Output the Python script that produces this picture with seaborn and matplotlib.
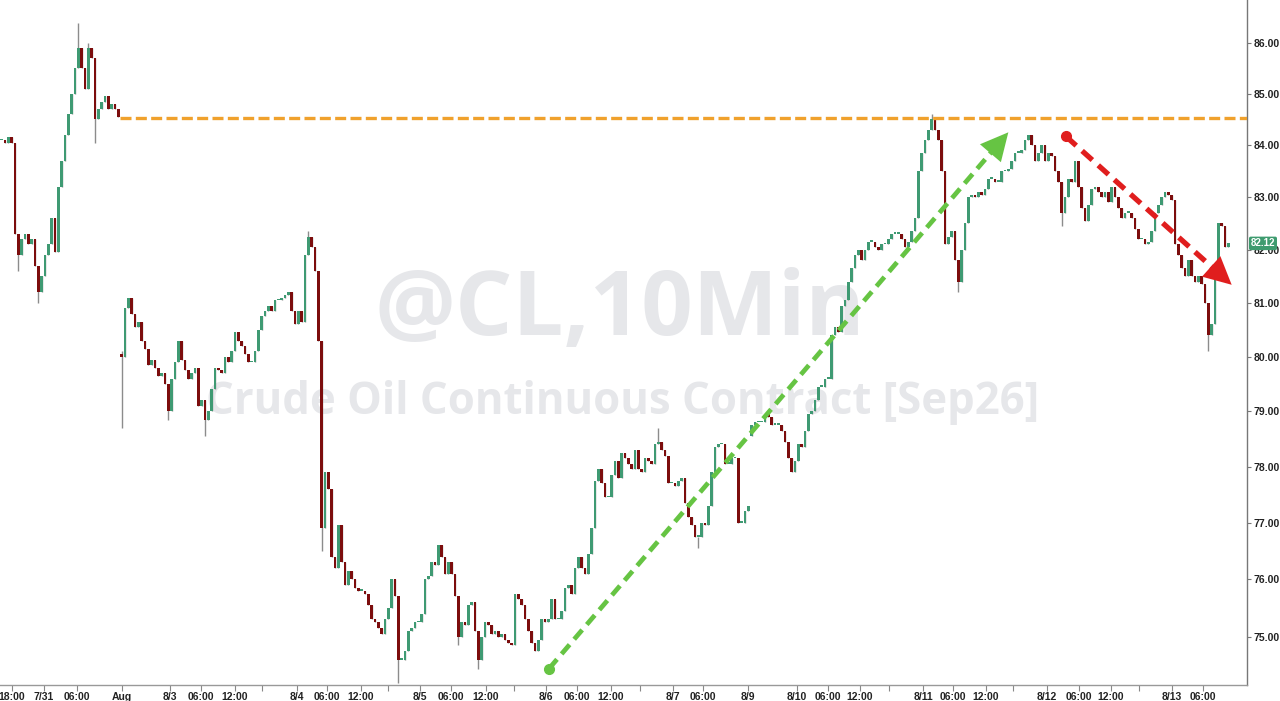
import numpy as np
import pandas as pd
import matplotlib
matplotlib.use("Agg")
import matplotlib.pyplot as plt
import matplotlib.ticker as mticker
from matplotlib.transforms import blended_transform_factory
import seaborn as sns

# ---------------- data ----------------
# closing prices per slot on a gap-free session time axis
close_jul31 = [
    84.1, 84.05, 84.15, 84.05, 82.3, 81.9, 82.2, 82.3, 82.1, 82.2, 81.7, 81.2,
    81.5, 81.9, 82.1, 82.6, 81.95, 83.2, 83.7, 84.2, 84.6, 85.0, 85.5, 85.9,
    85.5, 85.1, 85.9, 85.7, 84.5, 84.7, 84.85, 84.95, 84.7, 84.8, 84.7, 84.55,
]
close_aug3_4 = [
    80.0, 80.9, 81.1, 80.8, 80.55, 80.65, 80.3, 80.15, 79.85, 79.95, 79.8, 79.65,
    79.7, 79.5, 79.0, 79.6, 79.9, 80.3, 79.95, 79.75, 79.6, 79.7, 79.8, 79.1,
    79.2, 78.85, 79.0, 79.4, 79.8, 79.75, 79.7, 80.0, 79.9, 80.1, 80.45, 80.3,
    80.2, 80.05, 79.9, 79.9, 80.1, 80.5, 80.75, 80.85, 80.95, 80.85, 81.05, 81.05,
    81.1, 81.15, 81.2, 80.85, 80.6, 80.85, 80.65, 81.9, 82.25, 82.05, 81.6, 80.3,
]
close_aug5_7 = [
    76.9, 77.9, 77.6, 76.4, 76.2, 76.95, 76.3, 75.9, 76.15, 76.0, 75.85, 75.8,
    75.8, 75.75, 75.55, 75.3, 75.25, 75.15, 75.05, 75.3, 75.5, 76.0, 75.7, 74.6,
    74.6, 74.75, 75.1, 75.15, 75.25, 75.25, 75.4, 76.0, 76.05, 76.3, 76.25, 76.6,
    76.4, 76.1, 76.3, 76.1, 75.7, 75.0, 75.25, 75.2, 75.55, 75.6, 75.1, 74.6,
    75.0, 75.25, 75.2, 75.05, 75.1, 75.0, 75.05, 74.95, 74.9, 74.85, 75.75, 75.65,
    75.55, 75.3, 75.1, 74.9, 74.75, 74.95, 75.3, 75.25, 75.3, 75.65, 75.3, 75.3,
    75.45, 75.85, 75.9, 75.75, 76.2, 76.4, 76.2, 76.1, 76.45, 76.9, 77.75, 77.95,
    77.7, 77.45, 77.45, 77.85, 78.1, 77.8, 78.25, 78.15, 78.05, 77.95, 78.3, 77.95,
    77.9, 78.15, 78.1, 78.05, 78.4, 78.45, 78.3, 78.2, 77.7, 77.7, 77.65, 77.75,
    77.8, 77.35, 77.1, 76.95, 76.75, 76.75, 77.0, 76.95, 77.3, 77.9, 78.35, 78.4,
    78.4, 78.05, 78.05, 78.15, 78.15, 77.0, 77.0, 77.2, 77.3,
]
close_aug10_13 = [
    78.75, 78.8, 78.8, 78.8, 78.95, 78.9, 78.75, 78.75, 78.75, 78.65, 78.45, 78.15,
    77.9, 78.1, 78.4, 78.35, 78.65, 78.95, 79.0, 79.2, 79.45, 79.45, 79.6, 79.6,
    80.4, 80.55, 80.45, 80.95, 81.05, 81.4, 81.65, 81.9, 82.0, 81.8, 82.0, 82.15,
    82.15, 82.05, 82.0, 82.1, 82.1, 82.2, 82.3, 82.3, 82.3, 82.2, 82.05, 82.15,
    82.35, 82.6, 83.5, 83.85, 84.1, 84.3, 84.5, 84.3, 84.1, 83.5, 82.1, 82.25,
    82.35, 81.8, 81.4, 82.0, 82.5, 83.0, 83.05, 83.0, 83.1, 83.05, 83.15, 83.35,
    83.35, 83.3, 83.3, 83.5, 83.5, 83.55, 83.7, 83.85, 83.85, 83.9, 84.1, 84.2,
    84.0, 83.7, 83.85, 84.0, 83.7, 83.85, 83.8, 83.5, 83.3, 82.7, 83.0, 83.35,
    83.3, 83.7, 83.2, 82.8, 82.55, 82.85, 83.15, 83.2, 83.1, 83.0, 83.1, 82.9,
    83.2, 83.0, 82.8, 82.6, 82.7, 82.7, 82.6, 82.4, 82.2, 82.2, 82.1, 82.15,
    82.35, 82.7, 82.85, 83.0, 83.1, 83.05, 82.95, 82.1, 81.9, 81.65, 81.5, 81.8,
    81.5, 81.4, 81.5, 81.35, 81.0, 80.4, 80.6, 81.6, 82.5, 82.45, 82.05, 82.12,
]
first_open = 84.1
session_opens = {36: 80.05, 225: 78.55}          # opens after weekend gaps
wick_highs = {23: 86.4, 26: 86.0, 36: 80.1, 92: 82.35, 197: 78.7, 279: 84.6}
wick_lows = {5: 81.6, 11: 81.0, 28: 84.05, 36: 78.7, 50: 78.85, 61: 78.55,
             96: 76.5, 119: 74.2, 137: 74.85, 143: 74.45, 209: 76.55,
             287: 81.2, 318: 82.45, 362: 80.1}

resistance = 84.53
resistance_from = 35.5
green_trend = ([164.2, 302.0], [74.45, 84.25])
red_trend = ([319.3, 369.0], [84.17, 81.34])
last_price = 82.12

price_ticks = [75, 76, 77, 78, 79, 80, 81, 82, 83, 84, 85, 86]
time_tick_pos = [3.1, 12.7, 22.6, 36.1, 50.5, 59.8, 70.0, 88.6, 97.6, 107.8,
                 125.5, 134.8, 145.3, 163.3, 172.6, 182.8, 201.4, 210.4, 223.9,
                 238.6, 247.9, 257.5, 276.4, 285.4, 295.3, 313.6, 323.2, 332.8,
                 351.1, 360.4]
time_tick_lab = ["18:00", "7/31", "06:00", "Aug", "8/3", "06:00", "12:00", "8/4",
                 "06:00", "12:00", "8/5", "06:00", "12:00", "8/6", "06:00", "12:00",
                 "8/7", "06:00", "8/9", "8/10", "06:00", "12:00", "8/11", "06:00",
                 "12:00", "8/12", "06:00", "12:00", "8/13", "06:00"]
minor_tick_pos = [78.1, 115.9, 153.7, 191.5, 266.2, 303.4, 341.2]

# ---------------- build OHLC ----------------
close = np.array(close_jul31 + close_aug3_4 + close_aug5_7 + close_aug10_13)
n = len(close)
opens = np.empty(n)
opens[0] = first_open
opens[1:] = close[:-1]
for k, v in session_opens.items():
    opens[k] = v
high = np.maximum(opens, close)
low = np.minimum(opens, close)
for k, v in wick_highs.items():
    high[k] = max(high[k], v)
for k, v in wick_lows.items():
    low[k] = min(low[k], v)
df = pd.DataFrame({"slot": np.arange(n), "open": opens, "high": high,
                   "low": low, "close": close})
df["up"] = df["close"] >= df["open"]

# ---------------- style ----------------
sns.set_theme(style="white")
plt.rcParams["font.family"] = ["Liberation Sans", "DejaVu Sans"]

fig = plt.figure(figsize=(12.8, 7.01), dpi=100)
ax = fig.add_axes([0.0, 16 / 701, 1247 / 1280, 685 / 701])
ax.set_facecolor("white")
ax.set_yscale("log")

UP = "#3f9a73"
DOWN = "#7c0d0d"
WICK = "#8c8c8c"

# watermark
ax.text(0.497, 0.545, "@CL,10Min", transform=ax.transAxes, ha="center",
        va="center", fontsize=65, fontweight="bold", color="#e6e7ea",
        family=["Open Sans", "DejaVu Sans"], zorder=0)
ax.text(0.499, 0.413, "Crude Oil Continuous Contract [Sep26]",
        transform=ax.transAxes, ha="center", va="center", fontsize=31.5,
        fontweight="bold", color="#e6e7ea", family=["Open Sans", "DejaVu Sans"],
        zorder=0)

# candles
ax.vlines(df["slot"], df["low"], df["high"], color=WICK, lw=1.0, zorder=2)
body_h = (df["close"] - df["open"]).abs().clip(lower=0.03)
body_b = df[["open", "close"]].min(axis=1)
ax.bar(df["slot"], body_h, bottom=body_b, width=0.88,
       color=np.where(df["up"], UP, DOWN), linewidth=0, zorder=3)

# resistance line
res_df = pd.DataFrame({"x": [resistance_from, 380.0], "y": [resistance, resistance]})
sns.lineplot(data=res_df, x="x", y="y", ax=ax, color="#f0a12c", linewidth=2.4,
             linestyle=(0, (3.3, 1.3)), estimator=None, sort=False, zorder=4)

ax.set_xlim(-0.5, 373.6)
ax.set_ylim(74.17, 86.86)


def trend_arrow(xs, ys, color, lw, head):
    x0, x1 = xs
    y0, y1 = ys
    p0 = ax.transData.transform((x0, y0))
    p1 = ax.transData.transform((x1, y1))
    d = p1 - p0
    L = np.hypot(*d)
    u = d / L
    back = p1 - u * head * 0.9
    back_data = ax.transData.inverted().transform(back)
    tdf = pd.DataFrame({"x": [x0, back_data[0]], "y": [y0, back_data[1]]})
    sns.lineplot(data=tdf, x="x", y="y", ax=ax, color=color, linewidth=lw,
                 linestyle=(0, (2.6, 1.5)), estimator=None, sort=False, zorder=6)
    ax.plot([x0], [y0], "o", color=color, markersize=7, zorder=7)
    pre = ax.transData.inverted().transform(p1 - u * head * 1.2)
    ax.annotate("", xy=(x1, y1), xytext=(pre[0], pre[1]),
                arrowprops=dict(arrowstyle="-|>,head_length=0.9,head_width=0.45",
                                color=color, lw=0.01, shrinkA=0, shrinkB=0,
                                mutation_scale=22), zorder=7)


trend_arrow(*green_trend, color="#66c443", lw=3.4, head=20)
trend_arrow(*red_trend, color="#e01e1e", lw=3.8, head=22)

ax.set_xlim(-0.5, 373.6)
ax.set_ylim(74.17, 86.86)
ax.set_xlabel("")
ax.set_ylabel("")
if ax.get_legend() is not None:
    ax.get_legend().remove()

# axes decoration
ax.yaxis.tick_right()
ax.yaxis.set_major_locator(mticker.FixedLocator(price_ticks))
ax.yaxis.set_minor_locator(mticker.NullLocator())
ax.yaxis.set_major_formatter(mticker.FuncFormatter(lambda v, p: f"{v:.2f}"))
ax.tick_params(axis="y", which="major", right=True, left=False, length=3,
               width=0.8, color="#777777", pad=2, labelsize=7.5, labelcolor="#222222")
for lab in ax.get_yticklabels():
    lab.set_fontweight("bold")

ax.set_xticks(time_tick_pos)
ax.set_xticklabels(time_tick_lab, fontweight="bold")
ax.set_xticks(minor_tick_pos, minor=True)
ax.tick_params(axis="x", which="major", bottom=True, length=4, width=0.8,
               color="#888888", pad=1, labelsize=7.5, labelcolor="#222222")
ax.tick_params(axis="x", which="minor", bottom=True, length=4, width=0.8,
               color="#888888")

for s in ["left", "top"]:
    ax.spines[s].set_visible(False)
ax.spines["right"].set_color("#777777")
ax.spines["right"].set_linewidth(1.0)
ax.spines["bottom"].set_color("#999999")
ax.spines["bottom"].set_linewidth(1.0)
ax.grid(False)

# last price tag (covers the 82.00 label as in the original)
tr = blended_transform_factory(ax.transAxes, ax.transData)
ax.text(1.003, last_price, f"{last_price:.2f}", transform=tr, ha="left",
        va="center", color="white", fontsize=7, fontweight="bold",
        bbox=dict(boxstyle="round,pad=0.18", fc="#3e9b6f", ec="none"),
        zorder=10, clip_on=False)

fig.savefig("out.png", dpi=100, facecolor="white")
